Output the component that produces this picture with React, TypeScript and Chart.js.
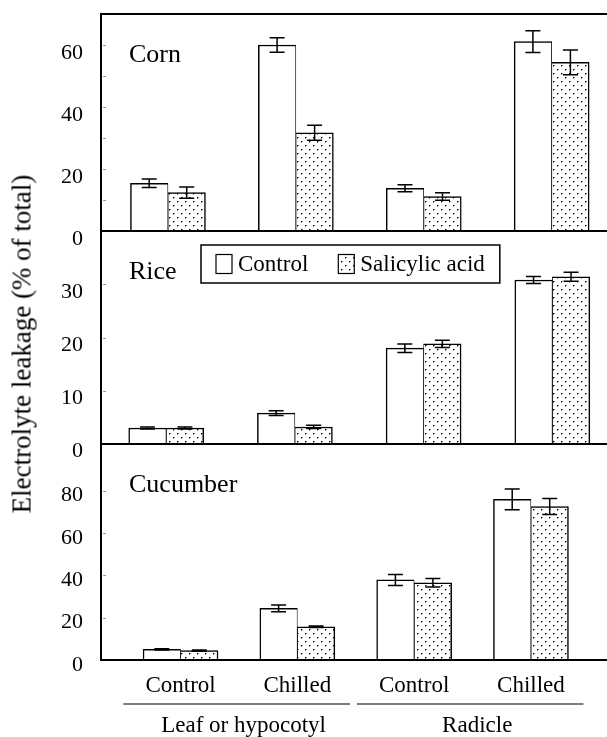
import React, { useEffect, useRef } from 'react';
import { Chart, registerables } from 'chart.js';

Chart.register(...registerables);

const FONT = '"Liberation Serif", "Times New Roman", serif';

// ---- data ----
const categories = ['Control', 'Chilled', 'Control', 'Chilled'];
const tissues = ['Leaf or hypocotyl', 'Radicle'];
const tissueOfCategory = [0, 0, 1, 1];
const seriesNames = ['Control', 'Salicylic acid'];
const yAxisTitle = 'Electrolyte leakage (% of total)';

const cornControl = [15.4, 60.0, 13.8, 61.1];
const cornControlErr = [1.4, 2.3, 1.1, 3.5];
const cornSA = [12.4, 31.7, 11.1, 54.4];
const cornSAErr = [1.8, 2.4, 1.2, 4.0];

const riceControl = [3.0, 5.8, 18.0, 30.8];
const riceControlErr = [0.2, 0.45, 0.8, 0.65];
const riceSA = [3.0, 3.2, 18.8, 31.4];
const riceSAErr = [0.2, 0.3, 0.7, 0.85];

const cucumberControl = [5.0, 24.4, 37.8, 75.9];
const cucumberControlErr = [0.3, 1.6, 2.6, 4.9];
const cucumberSA = [4.4, 15.7, 36.5, 72.5];
const cucumberSAErr = [0.3, 0.4, 2.0, 3.8];

// ---- panel layout (positions / scale ranges, not data) ----
const panels = [
  {
    key: 'corn', title: 'Corn',
    control: cornControl, controlErr: cornControlErr, sa: cornSA, saErr: cornSAErr,
    top: 14, bottom: 231, yMax: 70, yStep: 10, labelStep: 20, labelOffset: 8.5,
    xMin: -0.5235, xMax: 3.4327, frameTop: true, legend: false, xAxis: false,
  },
  {
    key: 'rice', title: 'Rice',
    control: riceControl, controlErr: riceControlErr, sa: riceSA, saErr: riceSAErr,
    top: 231, bottom: 444, yMax: 40, yStep: 5, labelStep: 10, labelOffset: 7.5,
    xMin: -0.5066, xMax: 3.425, frameTop: false, legend: true, xAxis: false,
  },
  {
    key: 'cucumber', title: 'Cucumber',
    control: cucumberControl, controlErr: cucumberControlErr, sa: cucumberSA, saErr: cucumberSAErr,
    top: 444, bottom: 660, yMax: 102, yStep: 20, labelStep: 20, labelOffset: 5,
    xMin: -0.681, xMax: 3.651, frameTop: false, legend: false, xAxis: true,
  },
];

const W = 607;
const H = 737;
const X_AXIS_H = 50;

function makeDotPattern(): CanvasPattern | string {
  const t = document.createElement('canvas');
  t.width = 8;
  t.height = 8;
  const c = t.getContext('2d');
  if (!c) return '#ddd';
  c.fillStyle = '#fff';
  c.fillRect(0, 0, 8, 8);
  const dot = (x: number, y: number) => {
    c.fillStyle = '#000';
    c.fillRect(x, y, 1, 1);
    c.fillStyle = '#888';
    c.fillRect(x + 1, y, 1, 1);
    c.fillRect(x, y + 1, 1, 1);
  };
  dot(1, 1);
  dot(5, 5);
  const p = c.createPattern(t, 'repeat');
  return p || '#ddd';
}

function makeDeco(panel: any) {
  return {
    id: 'deco_' + panel.key,
    afterDatasetsDraw(chart: any) {
      const { ctx, chartArea: a, scales } = chart;
      const ys = scales.y;
      const xs = scales.x;
      ctx.save();

      // error bars
      chart.data.datasets.forEach((ds: any, di: number) => {
        const meta = chart.getDatasetMeta(di);
        meta.data.forEach((bar: any, i: number) => {
          const v = ds.data[i].y;
          const e = ds.errors[i];
          const y1 = ys.getPixelForValue(v + e);
          const y2 = ys.getPixelForValue(v - e);
          ctx.strokeStyle = '#000';
          ctx.lineWidth = 1.5;
          ctx.beginPath();
          ctx.moveTo(bar.x, y1);
          ctx.lineTo(bar.x, y2);
          ctx.moveTo(bar.x - 7.5, y1);
          ctx.lineTo(bar.x + 7.5, y1);
          ctx.moveTo(bar.x - 7.5, y2);
          ctx.lineTo(bar.x + 7.5, y2);
          ctx.stroke();
        });
      });

      // small inside tick marks
      ctx.strokeStyle = '#999';
      ctx.lineWidth = 1;
      ys.ticks.forEach((t: any) => {
        if (t.value <= 0 || t.value > panel.yMax - panel.yStep * 0.25) return;
        const y = Math.round(ys.getPixelForValue(t.value)) + 0.5;
        ctx.beginPath();
        ctx.moveTo(a.left + 2, y);
        ctx.lineTo(a.left + 5, y);
        ctx.stroke();
      });

      // frame lines
      ctx.strokeStyle = '#000';
      ctx.lineWidth = 2;
      ctx.beginPath();
      ctx.moveTo(a.left, a.top);
      ctx.lineTo(a.left, a.bottom);
      ctx.moveTo(a.left - 1, a.bottom);
      ctx.lineTo(a.right, a.bottom);
      if (panel.frameTop) {
        ctx.moveTo(a.left - 1, a.top);
        ctx.lineTo(a.right, a.top);
      }
      ctx.stroke();

      // panel title
      ctx.fillStyle = '#000';
      ctx.font = `26px ${FONT}`;
      ctx.textAlign = 'left';
      ctx.textBaseline = 'middle';
      ctx.fillText(panel.title, a.left + 28, a.top + 41);

      // legend
      if (panel.legend) {
        ctx.font = `23px ${FONT}`;
        const w1 = ctx.measureText(seriesNames[0]).width;
        const w2 = ctx.measureText(seriesNames[1]).width;
        const bx = a.left + 100;
        const by = a.top + 14;
        const bh = 38;
        const sq = 16, sqh = 19, gap = 6, itemGap = 30, pad = 15;
        const bw = pad + sq + gap + w1 + itemGap + sq + gap + w2 + pad;
        ctx.fillStyle = '#fff';
        ctx.fillRect(bx, by, bw, bh);
        ctx.lineWidth = 1.5;
        ctx.strokeStyle = '#000';
        ctx.strokeRect(bx, by, bw, bh);
        const cy = by + bh / 2;
        let x = bx + pad;
        [0, 1].forEach((k) => {
          const ds = chart.data.datasets[k];
          ctx.fillStyle = ds.backgroundColor;
          ctx.fillRect(x, cy - sqh / 2, sq, sqh);
          ctx.lineWidth = 1.2;
          ctx.strokeStyle = '#000';
          ctx.strokeRect(x, cy - sqh / 2, sq, sqh);
          ctx.fillStyle = '#000';
          ctx.textAlign = 'left';
          ctx.textBaseline = 'middle';
          ctx.fillText(seriesNames[k], x + sq + gap, cy + 1);
          x += sq + gap + (k === 0 ? w1 : w2) + itemGap;
        });
      }

      // tissue group labels under the bottom panel
      if (panel.xAxis) {
        ctx.font = `23px ${FONT}`;
        ctx.fillStyle = '#000';
        ctx.strokeStyle = '#000';
        ctx.lineWidth = 1.2;
        tissues.forEach((name, t) => {
          const idx = tissueOfCategory
            .map((g, i) => (g === t ? i : -1))
            .filter((i) => i >= 0);
          const first = idx[0];
          const last = idx[idx.length - 1];
          const x1 = xs.getPixelForValue(first - 0.49);
          const x2 = xs.getPixelForValue(last + 0.45);
          const xm = xs.getPixelForValue((first + last) / 2 + 0.04);
          const ly = a.bottom + 44;
          ctx.beginPath();
          ctx.moveTo(x1, ly);
          ctx.lineTo(x2, ly);
          ctx.stroke();
          ctx.textAlign = 'center';
          ctx.textBaseline = 'middle';
          ctx.fillText(name, xm, a.bottom + 66);
        });
      }
      ctx.restore();
    },
  };
}

function buildConfig(panel: any, pattern: any): any {
  const toPoints = (vals: number[]) => vals.map((v, i) => ({ x: i, y: v }));
  const bottomPad = H - panel.bottom - (panel.xAxis ? X_AXIS_H : 0);
  return {
    type: 'bar',
    data: {
      datasets: [
        {
          label: seriesNames[0],
          data: toPoints(panel.control),
          errors: panel.controlErr,
          backgroundColor: '#ffffff',
          borderColor: '#000000',
          borderWidth: { top: 1.5, left: 1.5, right: 0.8, bottom: 0 },
          borderSkipped: 'bottom',
          barThickness: 37.5,
        },
        {
          label: seriesNames[1],
          data: toPoints(panel.sa),
          errors: panel.saErr,
          backgroundColor: pattern,
          borderColor: '#000000',
          borderWidth: { top: 1.5, left: 0.8, right: 1.5, bottom: 0 },
          borderSkipped: 'bottom',
          barThickness: 37.5,
        },
      ],
    },
    options: {
      responsive: false,
      animation: false,
      devicePixelRatio: 1,
      layout: {
        autoPadding: false,
        padding: { top: panel.top, bottom: bottomPad, left: 0, right: 0 },
      },
      plugins: {
        legend: { display: false },
        tooltip: { enabled: false },
        title: { display: false },
      },
      events: [],
      scales: {
        x: {
          type: 'linear',
          display: panel.xAxis,
          offset: false,
          min: panel.xMin,
          max: panel.xMax,
          grid: { display: false, drawTicks: false, offset: false },
          border: { display: false },
          afterBuildTicks: (s: any) => {
            s.ticks = categories.map((_, i) => ({ value: i }));
          },
          afterFit: (s: any) => {
            s.height = panel.xAxis ? X_AXIS_H : 0;
            s.paddingLeft = 0;
            s.paddingRight = 0;
            s.paddingTop = 0;
            s.paddingBottom = 0;
          },
          ticks: {
            autoSkip: false,
            maxRotation: 0,
            minRotation: 0,
            padding: 12,
            color: '#000',
            font: { family: FONT, size: 23 },
            callback: (v: number) => categories[v] ?? '',
          },
        },
        y: {
          type: 'linear',
          min: 0,
          max: panel.yMax,
          grid: { display: false, drawTicks: false },
          border: { display: false },
          afterFit: (s: any) => {
            s.width = 101;
            s.paddingTop = 0;
            s.paddingBottom = 0;
            s.paddingLeft = 0;
            s.paddingRight = 0;
          },
          ticks: {
            stepSize: panel.yStep,
            includeBounds: false,
            padding: 18,
            labelOffset: panel.labelOffset,
            color: '#000',
            font: { family: FONT, size: 22 },
            callback: (v: number) =>
              v % panel.labelStep === 0 && v <= panel.yMax - panel.yStep * 0.25 ? String(v) : '',
          },
        },
      },
    },
    plugins: [makeDeco(panel)],
  };
}

export default function App() {
  const r0 = useRef<HTMLCanvasElement>(null);
  const r1 = useRef<HTMLCanvasElement>(null);
  const r2 = useRef<HTMLCanvasElement>(null);
  const refs = [r0, r1, r2];

  useEffect(() => {
    const pattern = makeDotPattern();
    const charts = panels.map((p, k) => {
      const el = refs[k].current as HTMLCanvasElement;
      return new Chart(el, buildConfig(p, pattern));
    });
    return () => charts.forEach((c) => c.destroy());
  }, []);

  return (
    <div
      style={{
        position: 'absolute',
        left: 0,
        top: 0,
        width: W,
        height: H,
        background: '#fff',
        overflow: 'hidden',
      }}
    >
      {panels.map((p, k) => (
        <canvas
          key={p.key}
          ref={refs[k]}
          width={W}
          height={H}
          style={{ position: 'absolute', left: 0, top: 0, width: W, height: H }}
        />
      ))}
      <div
        style={{
          position: 'absolute',
          left: 22,
          top: 344,
          transform: 'translate(-50%, -50%) rotate(-90deg)',
          whiteSpace: 'nowrap',
          fontFamily: FONT,
          fontSize: 27,
          color: '#000',
          lineHeight: 1,
        }}
      >
        {yAxisTitle}
      </div>
    </div>
  );
}
